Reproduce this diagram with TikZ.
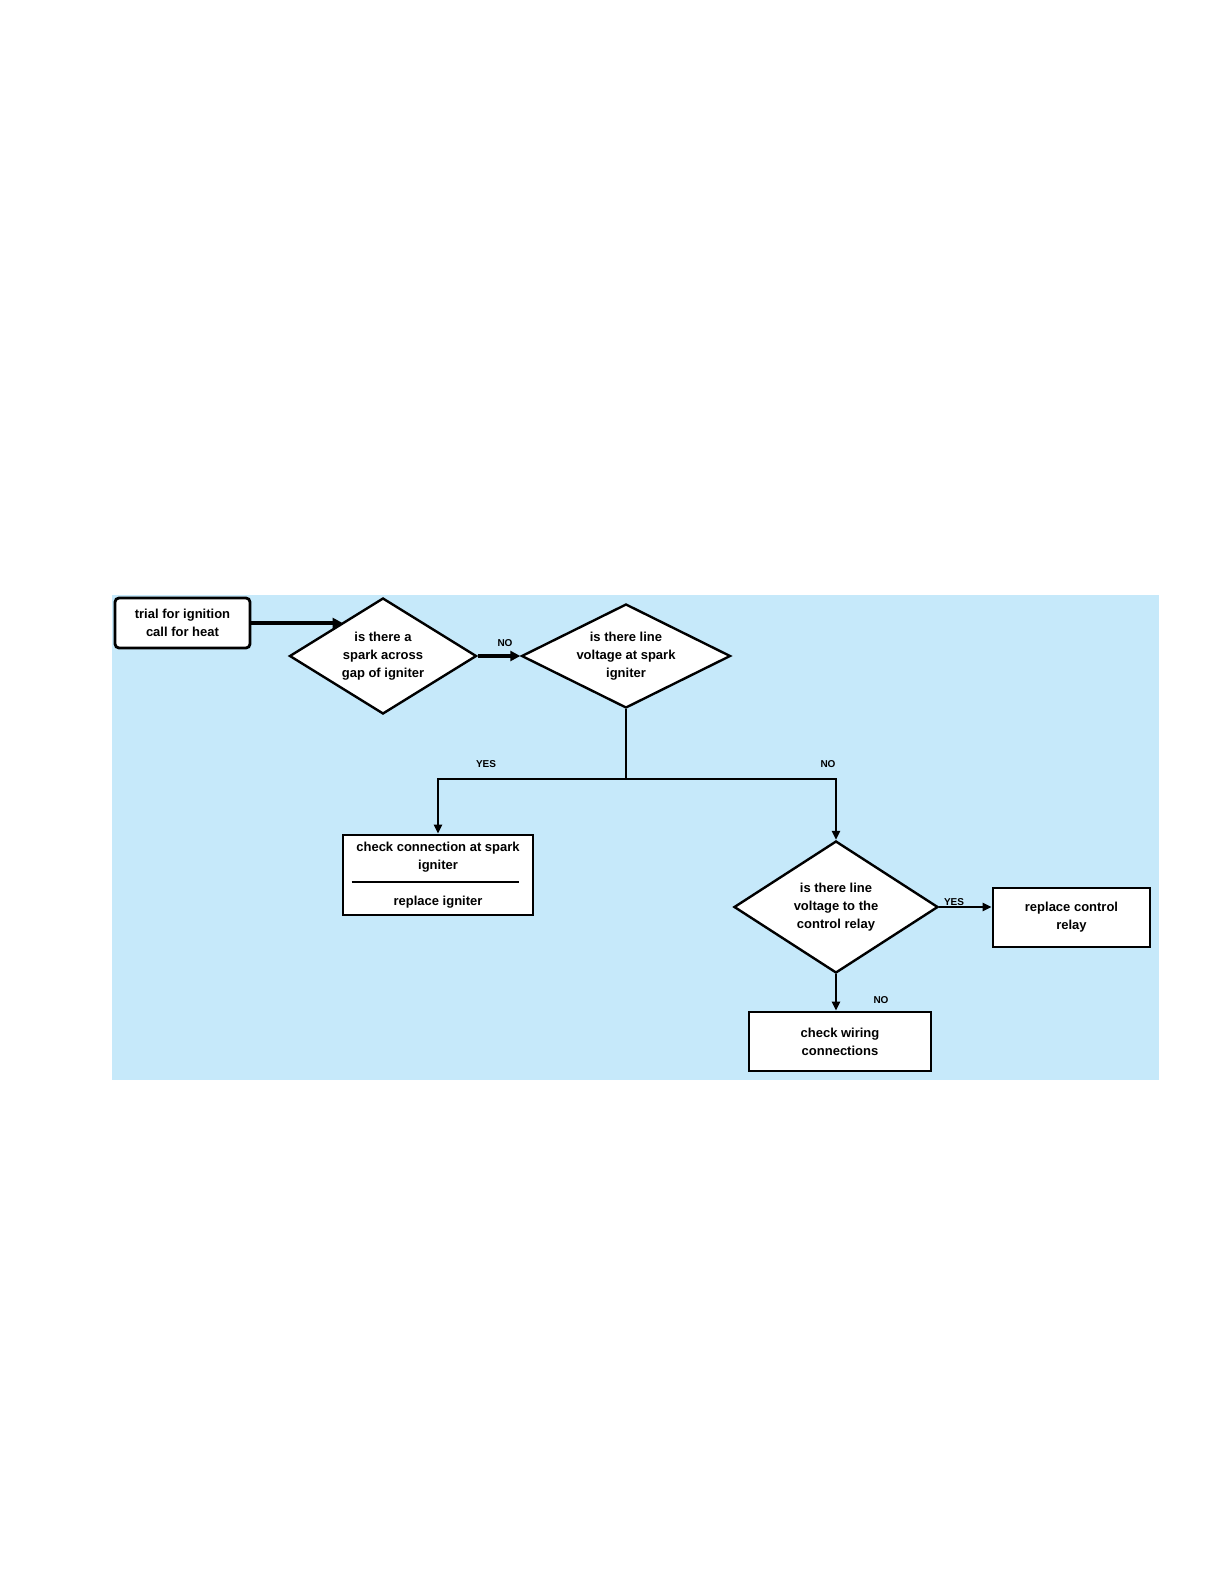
\documentclass[tikz,border=0pt]{standalone}
\usepackage{fontspec}
\setmainfont{Liberation Sans}
\usetikzlibrary{shapes.geometric,arrows.meta,calc}
\definecolor{bgblue}{RGB}{198,233,250}
\begin{document}
\begin{tikzpicture}[x=1pt,y=-1pt,
  txt/.style={font=\fontsize{13}{18}\selectfont\bfseries},
  box/.style={txt,draw=black,line width=2.8pt,fill=white,inner sep=0pt,align=center},
  dia/.style={txt,diamond,draw=black,line width=2.4pt,fill=white,inner sep=0pt,align=center},
  lbl/.style={font=\fontsize{10}{12}\selectfont\bfseries},
  conn/.style={line width=2.6pt},
  arr/.style={conn,-{Triangle[length=9pt,width=8pt]}},
  thickarr/.style={line width=4.8pt,-{Triangle[length=10pt,width=10pt]}},
  sepline/.style={line width=1.6pt}]
\fill[white] (0,0) rectangle (1224,1584);
\useasboundingbox (0,0) rectangle (1224,1584);
\fill[bgblue] (112,595) rectangle (1159,1080);

\node[box,rounded corners=4pt,minimum width=135pt,minimum height=50pt] (b1) at (182.5,623) {trial for ignition\\call for heat};
\node[dia,aspect=1.612,minimum width=187pt,minimum height=116pt] (d1) at (383,656) {is there a\\spark across\\gap of igniter};
\node[dia,aspect=2.01,minimum width=209pt,minimum height=104pt] (d2) at (626,656) {is there line\\voltage at spark\\igniter};
\node[box,minimum width=190pt,minimum height=80pt] (b2) at (438,875) {check connection at spark\\igniter\\[18pt]replace igniter};
\node[dia,aspect=1.545,minimum width=204pt,minimum height=132pt] (d3) at (836,907) {is there line\\voltage to the\\control relay};
\node[box,minimum width=157pt,minimum height=59pt] (b3) at (1071.5,917.5) {replace control\\relay};
\node[box,minimum width=182pt,minimum height=59pt] (b4) at (840,1041.5) {check wiring\\connections};

\draw[sepline] ([xshift=10pt]b2.west |- 0,882) -- ([xshift=-15pt]b2.east |- 0,882);

\coordinate (j) at (d2.south |- 0,779);
\coordinate (jl) at (b2.north |- j);
\coordinate (jr) at (d3.north |- j);

\draw[thickarr] (b1.east) -- (b1.east -| d1.140.7);
\draw[thickarr] (d1.east) -- (d1.east -| d2.west);
\draw[conn] (d2.south) -- (j);
\draw[arr] (j) -- (jl) -- (b2.north);
\draw[arr] (j) -- (jr) -- (d3.north);
\draw[arr] (d3.east) -- (d3.east -| b3.west);
\draw[arr] (d3.south) -- (d3.south |- b4.north);

\node[lbl] (l1) at (505,643) {NO};
\node[lbl] (l2) at (486,764) {YES};
\node[lbl] (l3) at (828,764) {NO};
\node[lbl] (l4) at (954,902) {YES};
\node[lbl] (l5) at (881,1000) {NO};
\end{tikzpicture}
\end{document}
